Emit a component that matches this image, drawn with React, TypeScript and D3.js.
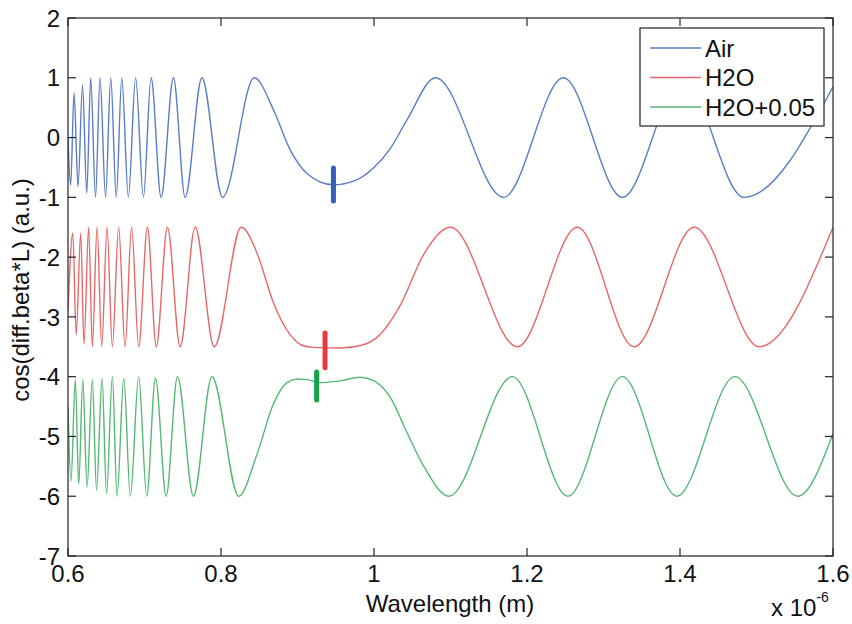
import React from "react";
import * as d3 from "d3";

// x in units of 1e-6 m, y in a.u.
const airX = [0.6, 0.6035, 0.6079, 0.6131, 0.619, 0.6245, 0.6297, 0.636, 0.6419, 0.6491, 0.6559, 0.6631, 0.6703, 0.6789, 0.6884, 0.6986, 0.7086, 0.7217, 0.7378, 0.7531, 0.775, 0.802, 0.8435, 0.8687, 0.8906, 0.9124, 0.9469, 0.975, 1.0, 1.0215, 1.0433, 1.0804, 1.1694, 1.2475, 1.3247, 1.4037, 1.4835, 1.6];
const airY = [0.0, -0.8, 0.75, -0.82, 0.88, -0.93, 1, -1, 1, -1, 1, -1, 1, -1, 1, -1, 1, -1, 1, -1, 1, -1, 1, 0.46, -0.21, -0.6, -0.79, -0.72, -0.5, -0.18, 0.3, 1, -1, 1, -1, 1, -1, 0.85];

const h2oX = [0.6, 0.6063, 0.6107, 0.6166, 0.6209, 0.627, 0.6318, 0.638, 0.6441, 0.651, 0.658, 0.6662, 0.6746, 0.6831, 0.6924, 0.7038, 0.7154, 0.73, 0.7466, 0.7662, 0.7911, 0.8264, 0.847, 0.8687, 0.8906, 0.905, 0.92, 0.956, 0.985, 1.005, 1.0346, 1.0651, 1.1, 1.1873, 1.2658, 1.3399, 1.4185, 1.5035, 1.6];
const h2oY = [-2.9, -1.6, -3.3, -1.6, -3.45, -1.5, -3.5, -1.5, -3.5, -1.5, -3.5, -1.5, -3.5, -1.5, -3.5, -1.5, -3.5, -1.5, -3.5, -1.5, -3.5, -1.5, -1.93, -2.77, -3.3, -3.47, -3.51, -3.52, -3.47, -3.33, -2.8, -1.95, -1.5, -3.5, -1.5, -3.5, -1.5, -3.5, -1.5];

const h2o05X = [0.6, 0.6039, 0.6096, 0.614, 0.6194, 0.6249, 0.6318, 0.6373, 0.6445, 0.6504, 0.658, 0.6641, 0.6729, 0.6815, 0.6924, 0.7029, 0.7143, 0.7283, 0.7431, 0.764, 0.7881, 0.8232, 0.847, 0.8687, 0.8863, 0.9, 0.9124, 0.9298, 0.956, 0.9822, 1.0, 1.0215, 1.0433, 1.0651, 1.0978, 1.1808, 1.2535, 1.3247, 1.3958, 1.4717, 1.5538, 1.6];
const h2o05Y = [-4.5, -5.75, -4.05, -5.8, -4.05, -5.85, -4.05, -5.9, -4.03, -5.95, -4.0, -6, -4.03, -6, -4, -6, -4.02, -6, -4, -6, -4, -6, -5.3, -4.45, -4.1, -4.04, -4.05, -4.1, -4.07, -4.01, -4.07, -4.35, -4.94, -5.5, -6, -4, -6, -4, -6, -4, -6, -4.95];

// vertical markers: [x, yTop, yBottom]
const markAir = [0.947, -0.51, -1.06];
const markH2O = [0.936, -3.27, -3.85];
const markH2O05 = [0.925, -3.92, -4.39];

const seriesNames = ["Air", "H2O", "H2O+0.05"];
const lineColors = ["#5b7cc6", "#e8686a", "#55b874"];
const markColors = ["#3461b2", "#e8393c", "#14a24a"];

const xTicks = [0.6, 0.8, 1.0, 1.2, 1.4, 1.6];
const yTicks = [2, 1, 0, -1, -2, -3, -4, -5, -6, -7];

const W = 852, H = 624;
const left = 68, right = 833, top = 18, bottom = 556;
const FONT = "Liberation Sans, Arial, sans-serif";

export default function App() {
  const x = d3.scaleLinear().domain([0.6, 1.6]).range([left, right]);
  const y = d3.scaleLinear().domain([-7, 2]).range([bottom, top]);
  const line = d3
    .line<[number, number]>()
    .x((d) => x(d[0]))
    .y((d) => y(d[1]))
    .curve(d3.curveMonotoneX);

  const series = [
    { xs: airX, ys: airY, mark: markAir },
    { xs: h2oX, ys: h2oY, mark: markH2O },
    { xs: h2o05X, ys: h2o05Y, mark: markH2O05 },
  ];

  const tickLen = 8;
  const fs = 24;

  return (
    <svg width={W} height={H} style={{ position: "absolute", left: 0, top: 0, background: "#fff" }}>
      <defs>
        <clipPath id="plotclip">
          <rect x={left} y={top} width={right - left} height={bottom - top} />
        </clipPath>
      </defs>
      <rect x={0} y={0} width={W} height={H} fill="#fff" />
      <g clipPath="url(#plotclip)">
        {series.map((s, i) => (
          <path
            key={i}
            d={line(s.xs.map((v, j) => [v, s.ys[j]] as [number, number])) || ""}
            fill="none"
            stroke={lineColors[i]}
            strokeWidth={1.4}
          />
        ))}
        {series.map((s, i) => (
          <line
            key={"m" + i}
            x1={x(s.mark[0])}
            x2={x(s.mark[0])}
            y1={y(s.mark[1])}
            y2={y(s.mark[2])}
            stroke={markColors[i]}
            strokeWidth={5}
            strokeLinecap="round"
          />
        ))}
      </g>
      {/* frame */}
      <rect x={left} y={top} width={right - left} height={bottom - top} fill="none" stroke="#222" strokeWidth={1.2} />
      {/* ticks */}
      {xTicks.map((t) => (
        <g key={"xt" + t}>
          <line x1={x(t)} x2={x(t)} y1={bottom} y2={bottom - tickLen} stroke="#222" strokeWidth={1.2} />
          <line x1={x(t)} x2={x(t)} y1={top} y2={top + tickLen} stroke="#222" strokeWidth={1.2} />
          <text x={x(t)} y={bottom + 26} textAnchor="middle" fontFamily={FONT} fontSize={fs} fill="#111">
            {d3.format("~g")(t)}
          </text>
        </g>
      ))}
      {yTicks.map((t) => (
        <g key={"yt" + t}>
          <line x1={left} x2={left + tickLen} y1={y(t)} y2={y(t)} stroke="#222" strokeWidth={1.2} />
          <line x1={right} x2={right - tickLen} y1={y(t)} y2={y(t)} stroke="#222" strokeWidth={1.2} />
          <text x={left - 8} y={y(t)} dy="0.36em" textAnchor="end" fontFamily={FONT} fontSize={fs} fill="#111">
            {t}
          </text>
        </g>
      ))}
      {/* axis labels */}
      <text x={450} y={612} textAnchor="middle" fontFamily={FONT} fontSize={fs} fill="#111">
        Wavelength (m)
      </text>
      <text x={771} y={616} fontFamily={FONT} fontSize={fs} fill="#111">
        x 10
        <tspan dy={-14} fontSize={14}>-6</tspan>
      </text>
      <text
        transform={`translate(29, 290) rotate(-90)`}
        textAnchor="middle"
        fontFamily={FONT}
        fontSize={fs}
        fill="#111"
      >
        cos(diff.beta*L) (a.u.)
      </text>
      {/* legend */}
      <g>
        <rect x={640} y={28} width={184} height={98} fill="#fff" stroke="#222" strokeWidth={1.2} />
        {seriesNames.map((n, i) => (
          <g key={n}>
            <line x1={650} x2={701} y1={48 + i * 29.5} y2={48 + i * 29.5} stroke={lineColors[i]} strokeWidth={1.4} />
            <text x={705} y={48 + i * 29.5} dy="0.36em" fontFamily={FONT} fontSize={fs} fill="#111">
              {n}
            </text>
          </g>
        ))}
      </g>
    </svg>
  );
}
